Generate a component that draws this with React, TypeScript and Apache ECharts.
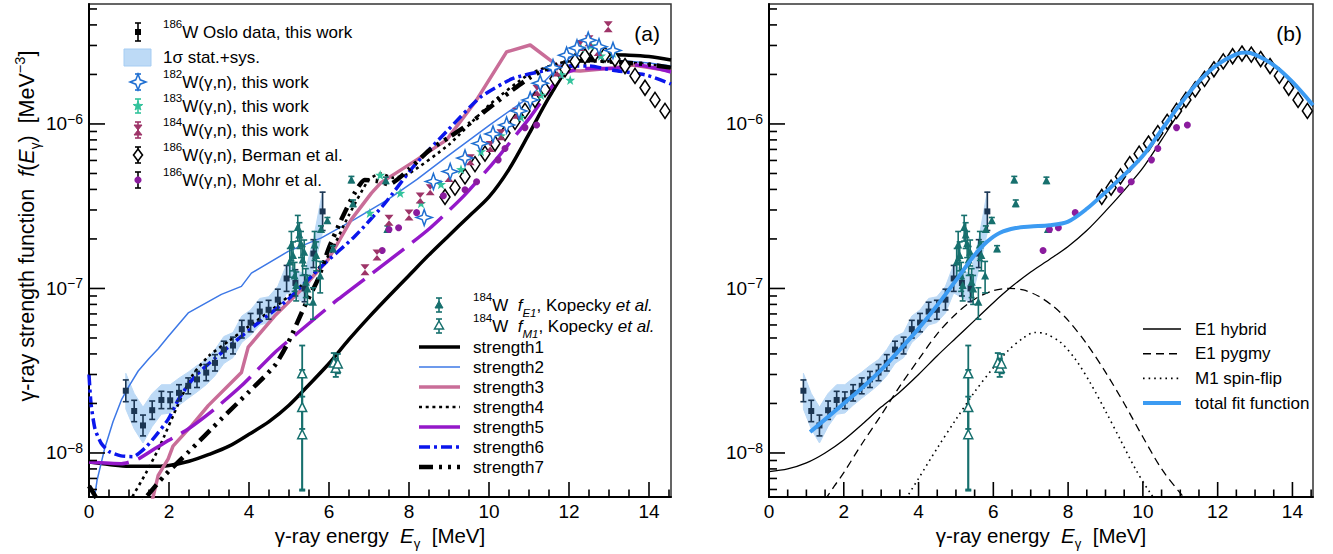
import React, { useEffect, useRef } from 'react';
import * as echarts from 'echarts';

const FONT = '"Liberation Sans", Arial, Helvetica, sans-serif';
const X_MIN = 0;
const X_MAX = 14.55;
const Y_MIN = 5.4e-9;
const Y_MAX = 5.36e-6;

// ---- tick values ----
const xTickValues = [0, 0.5, 1, 1.5, 2, 2.5, 3, 3.5, 4, 4.5, 5, 5.5, 6, 6.5, 7, 7.5, 8, 8.5, 9, 9.5, 10, 10.5, 11, 11.5, 12, 12.5, 13, 13.5, 14, 14.5];
const yTickValues = [6e-9, 7e-9, 8e-9, 9e-9, 1e-8, 2e-8, 3e-8, 4e-8, 5e-8, 6e-8, 7e-8, 8e-8, 9e-8, 1e-7, 2e-7, 3e-7, 4e-7, 5e-7, 6e-7, 7e-7, 8e-7, 9e-7, 1e-6, 2e-6, 3e-6, 4e-6, 5e-6];
const xMajorTicks = [0, 2, 4, 6, 8, 10, 12, 14];
const yMajorTicks = [1e-8, 1e-7, 1e-6];

// ---- Oslo data (186W) ----
const osloE = [0.92, 1.13, 1.35, 1.58, 1.81, 2.03, 2.25, 2.48, 2.70, 2.93, 3.15, 3.37, 3.60, 3.82, 4.04, 4.27, 4.49, 4.72, 4.94, 5.16, 5.39, 5.61, 5.84];
const osloF = [2.39e-8, 1.80e-8, 1.47e-8, 1.82e-8, 2.10e-8, 2.09e-8, 2.32e-8, 2.56e-8, 2.80e-8, 3.08e-8, 3.53e-8, 4.25e-8, 4.50e-8, 5.66e-8, 6.20e-8, 7.24e-8, 7.42e-8, 8.55e-8, 1.15e-7, 1.08e-7, 1.00e-7, 1.63e-7, 2.94e-7];
const osloLo = [2.05e-8, 1.55e-8, 1.27e-8, 1.60e-8, 1.86e-8, 1.86e-8, 2.07e-8, 2.29e-8, 2.50e-8, 2.75e-8, 3.15e-8, 3.78e-8, 4.00e-8, 5.00e-8, 5.45e-8, 6.35e-8, 6.50e-8, 7.40e-8, 9.60e-8, 9.00e-8, 8.30e-8, 1.34e-7, 2.25e-7];
const osloHi = [2.78e-8, 2.09e-8, 1.70e-8, 2.07e-8, 2.37e-8, 2.35e-8, 2.60e-8, 2.86e-8, 3.13e-8, 3.45e-8, 3.96e-8, 4.78e-8, 5.06e-8, 6.40e-8, 7.05e-8, 8.25e-8, 8.47e-8, 9.90e-8, 1.38e-7, 1.30e-7, 1.21e-7, 1.98e-7, 3.85e-7];
const bandLo = [1.85e-8, 1.40e-8, 1.15e-8, 1.45e-8, 1.72e-8, 1.75e-8, 1.95e-8, 2.15e-8, 2.35e-8, 2.60e-8, 2.95e-8, 3.50e-8, 3.80e-8, 4.70e-8, 5.20e-8, 6.00e-8, 6.20e-8, 7.10e-8, 9.40e-8, 8.80e-8, 8.20e-8, 1.30e-7, 2.20e-7];
const bandHi = [3.05e-8, 2.30e-8, 1.90e-8, 2.30e-8, 2.60e-8, 2.60e-8, 2.85e-8, 3.10e-8, 3.40e-8, 3.70e-8, 4.25e-8, 5.10e-8, 5.40e-8, 6.80e-8, 7.40e-8, 8.70e-8, 8.90e-8, 1.03e-7, 1.40e-7, 1.30e-7, 1.22e-7, 2.00e-7, 3.90e-7];

// ---- 184W Kopecky f_E1 (filled triangles) ----
const kopE1E = [5.02, 5.06, 5.10, 5.14, 5.18, 5.22, 5.26, 5.30, 5.34, 5.38, 5.42, 5.46, 5.60, 5.64, 5.68, 5.78, 5.80, 5.96, 6.10, 6.56, 6.60, 7.42, 7.46];
const kopE1F = [1.46e-7, 1.85e-7, 1.60e-7, 1.20e-7, 1.05e-7, 2.36e-7, 2.13e-7, 1.88e-7, 1.50e-7, 1.67e-7, 1.10e-7, 1.00e-7, 8.30e-8, 1.85e-7, 1.60e-7, 1.20e-7, 2.30e-7, 2.60e-7, 1.75e-7, 4.60e-7, 3.30e-7, 4.55e-7, 2.30e-7];
const kopE1Lo = [1.17e-7, 1.48e-7, 1.28e-7, 9.6e-8, 8.4e-8, 1.94e-7, 1.75e-7, 1.54e-7, 1.20e-7, 1.37e-7, 8.8e-8, 8.0e-8, 6.5e-8, 1.48e-7, 1.28e-7, 9.4e-8, 2.2e-7, 2.5e-7, 1.68e-7, 4.4e-7, 3.15e-7, 4.35e-7, 2.2e-7];
const kopE1Hi = [1.75e-7, 2.22e-7, 1.92e-7, 1.44e-7, 1.26e-7, 2.78e-7, 2.51e-7, 2.22e-7, 1.80e-7, 1.97e-7, 1.32e-7, 1.20e-7, 1.01e-7, 2.22e-7, 1.92e-7, 1.46e-7, 2.4e-7, 2.7e-7, 1.82e-7, 4.8e-7, 3.45e-7, 4.75e-7, 2.4e-7];
// ---- 184W Kopecky f_M1 (open triangles) ----
const kopM1E = [5.33, 5.33, 5.33, 6.12, 6.17, 6.22];
const kopM1F = [3.05e-8, 1.90e-8, 1.30e-8, 3.55e-8, 3.30e-8, 3.50e-8];
const kopM1Lo = [1.40e-8, 6.0e-9, 5.9e-9, 3.10e-8, 2.90e-8, 3.05e-8];
const kopM1Hi = [4.50e-8, 3.20e-8, 2.20e-8, 4.05e-8, 3.75e-8, 4.00e-8];

// ---- (gamma,n) this work ----
const w182E = [8.38, 8.61, 9.03, 9.40, 9.78, 10.10, 10.44, 10.75, 11.03, 11.28, 11.60, 11.94, 12.20, 12.48, 12.75, 13.10];
const w182F = [2.70e-7, 4.47e-7, 5.14e-7, 6.20e-7, 7.60e-7, 8.70e-7, 9.86e-7, 1.20e-6, 1.40e-6, 1.77e-6, 2.20e-6, 2.62e-6, 2.90e-6, 3.23e-6, 2.95e-6, 2.80e-6];
const w183E = [7.02, 7.28, 7.78, 8.30, 8.80, 9.30, 9.80, 10.30, 10.80, 11.30, 11.80, 12.03, 12.30, 12.55, 12.80, 13.10];
const w183F = [2.88e-7, 4.90e-7, 3.80e-7, 3.30e-7, 4.30e-7, 5.30e-7, 6.80e-7, 8.50e-7, 1.10e-6, 1.50e-6, 2.00e-6, 1.85e-6, 2.90e-6, 3.00e-6, 2.60e-6, 2.70e-6];
const w184E = [6.90, 7.20, 7.50, 8.00, 8.28, 8.53, 9.00, 9.53, 10.03, 10.30, 10.69, 11.20, 11.70, 12.28, 12.50, 12.73, 12.98];
const w184F = [1.30e-7, 1.60e-7, 2.60e-7, 2.80e-7, 3.55e-7, 3.98e-7, 4.80e-7, 6.05e-7, 7.30e-7, 8.60e-7, 1.16e-6, 1.60e-6, 2.10e-6, 3.00e-6, 3.20e-6, 2.80e-6, 3.90e-6];

// ---- Berman et al. and Mohr et al. ----
const bermanE = [8.9, 9.15, 9.4, 9.65, 9.9, 10.15, 10.4, 10.65, 10.9, 11.15, 11.4, 11.65, 11.9, 12.15, 12.4, 12.65, 12.9, 13.15, 13.4, 13.65, 13.9, 14.15, 14.4];
const bermanF = [3.6e-7, 4.1e-7, 4.8e-7, 5.7e-7, 6.6e-7, 7.6e-7, 8.8e-7, 1.03e-6, 1.2e-6, 1.4e-6, 1.62e-6, 1.88e-6, 2.15e-6, 2.4e-6, 2.58e-6, 2.68e-6, 2.64e-6, 2.48e-6, 2.25e-6, 1.96e-6, 1.66e-6, 1.4e-6, 1.2e-6];
const mohrE = [7.33, 7.50, 7.74, 8.19, 8.86, 9.40, 9.69, 10.23, 10.40, 10.90, 11.19];
const mohrF = [1.70e-7, 2.28e-7, 2.34e-7, 2.89e-7, 3.66e-7, 3.98e-7, 4.45e-7, 6.05e-7, 7.10e-7, 9.50e-7, 9.86e-7];

// ---- model strength functions (panel a) ----
const s1E = [0, 0.5, 1, 1.5, 2, 2.5, 3, 3.5, 4, 4.5, 5, 5.5, 6, 6.5, 7, 7.5, 8, 8.5, 9, 9.5, 10, 10.5, 11, 11.5, 12, 12.5, 13, 13.5, 14, 14.55];
const s1F = [8.8e-9, 8.5e-9, 8.3e-9, 8.3e-9, 8.4e-9, 8.9e-9, 9.8e-9, 1.1e-8, 1.3e-8, 1.55e-8, 1.95e-8, 2.6e-8, 3.5e-8, 4.9e-8, 6.7e-8, 9.0e-8, 1.2e-7, 1.6e-7, 2.1e-7, 2.75e-7, 3.6e-7, 5.3e-7, 8.7e-7, 1.45e-6, 2.2e-6, 2.55e-6, 2.63e-6, 2.62e-6, 2.57e-6, 2.45e-6];
const s2E = [0.12, 0.2, 0.39, 0.6, 0.81, 1.0, 1.23, 1.5, 1.73, 1.98, 2.48, 3.31, 3.81, 4.06, 4.98, 5.81, 6.64, 7.47, 8.2, 8.94, 10.03, 11.03, 11.78, 12.1, 12.5, 13.1, 14.0, 14.55];
const s2F = [5.0e-9, 6.8e-9, 1.06e-8, 1.55e-8, 2.1e-8, 2.55e-8, 3.15e-8, 3.75e-8, 4.3e-8, 5.1e-8, 7.1e-8, 9.2e-8, 1.03e-7, 1.24e-7, 1.68e-7, 2.03e-7, 2.63e-7, 3.47e-7, 4.6e-7, 6.3e-7, 9.9e-7, 1.47e-6, 2.28e-6, 2.6e-6, 2.6e-6, 2.45e-6, 2.35e-6, 2.25e-6];
const s3E = [1.55, 1.73, 1.98, 2.1, 2.56, 2.98, 3.81, 3.98, 4.64, 5.31, 5.98, 6.56, 7.06, 7.3, 8.19, 8.94, 9.69, 10.44, 11.03, 11.53, 11.86, 12.28, 13.1, 13.6, 14.55];
const s3F = [4.8e-9, 7.3e-9, 9.2e-9, 1.1e-8, 1.46e-8, 1.94e-8, 3.08e-8, 4.4e-8, 6.8e-8, 9.86e-8, 1.5e-7, 2.63e-7, 3.8e-7, 4.4e-7, 6.05e-7, 8.0e-7, 1.4e-6, 2.74e-6, 3.02e-6, 2.44e-6, 2.12e-6, 2.1e-6, 2.19e-6, 2.28e-6, 2.1e-6];
const s4E = [1.0, 1.43, 1.77, 2.23, 2.6, 3.0, 3.5, 4.0, 4.5, 5.0, 5.5, 6.0, 6.5, 7.0, 7.3, 7.6, 8.0, 9.0, 10.0, 11.0, 12.0, 13.0, 14.0, 14.55];
const s4F = [5.0e-9, 7.6e-9, 1.1e-8, 1.98e-8, 3.0e-8, 3.9e-8, 4.8e-8, 5.9e-8, 7.2e-8, 9.0e-8, 1.15e-7, 1.6e-7, 2.8e-7, 4.6e-7, 5.0e-7, 4.7e-7, 5.0e-7, 7.5e-7, 1.3e-6, 2.0e-6, 2.4e-6, 2.4e-6, 2.3e-6, 2.2e-6];
const s5E = [0, 0.81, 1.23, 1.64, 1.98, 2.48, 3.14, 3.81, 4.64, 5.23, 6.23, 7.47, 8.5, 9.36, 10.1, 11.03, 11.78, 12.28, 13.1, 13.7, 14.55];
const s5F = [8.8e-9, 8.6e-9, 9.2e-9, 1.06e-8, 1.19e-8, 1.4e-8, 1.85e-8, 2.56e-8, 4.07e-8, 5.4e-8, 8.6e-8, 1.46e-7, 2.3e-7, 3.63e-7, 5.78e-7, 1.1e-6, 1.94e-6, 2.17e-6, 2.17e-6, 2.28e-6, 2.07e-6];
const s6E = [0.0, 0.05, 0.15, 0.3, 0.5, 0.8, 1.1, 1.4, 1.64, 1.98, 2.23, 2.48, 2.7, 3.0, 3.48, 4.31, 4.98, 5.81, 6.64, 7.4, 8.11, 8.94, 9.78, 10.6, 11.44, 12.0, 12.5, 13.1, 13.94, 14.55];
const s6F = [3.0e-8, 2.0e-8, 1.4e-8, 1.15e-8, 1.02e-8, 9.6e-9, 9.5e-9, 1.07e-8, 1.25e-8, 1.6e-8, 2.1e-8, 2.6e-8, 3.0e-8, 3.5e-8, 4.4e-8, 6.4e-8, 8.6e-8, 1.36e-7, 2.07e-7, 3.3e-7, 5.5e-7, 9.0e-7, 1.45e-6, 1.89e-6, 2.12e-6, 2.25e-6, 2.25e-6, 2.12e-6, 1.98e-6, 1.75e-6];
const s7E = [0, 0.15, 0.3, 1.2, 1.43, 1.89, 2.48, 3.31, 3.98, 4.64, 4.98, 5.39, 5.72, 5.98, 6.31, 6.64, 6.89, 7.2, 7.5, 8.0, 8.5, 9.0, 9.5, 10.0, 10.5, 11.0, 11.5, 12.0, 12.5, 13.0, 13.5, 14.0, 14.55];
const s7F = [6.3e-9, 5.5e-9, 4.8e-9, 4.6e-9, 5.4e-9, 7.3e-9, 1.01e-8, 1.61e-8, 2.33e-8, 3.39e-8, 4.69e-8, 7.8e-8, 1.13e-7, 1.72e-7, 2.63e-7, 3.8e-7, 4.57e-7, 4.5e-7, 4.3e-7, 5.3e-7, 6.9e-7, 8.3e-7, 1.0e-6, 1.25e-6, 1.55e-6, 1.9e-6, 2.2e-6, 2.4e-6, 2.45e-6, 2.4e-6, 2.35e-6, 2.3e-6, 2.2e-6];

// ---- fit components (panel b) ----
const hybE = [0, 0.5, 1, 1.5, 2, 2.5, 3, 3.5, 4, 4.5, 5, 5.5, 6, 6.5, 7, 7.5, 8, 8.5, 9, 9.5, 10, 10.5, 11, 11.5, 12, 12.5, 12.75, 13, 13.5, 14, 14.55];
const hybF = [7.7e-9, 8.0e-9, 8.7e-9, 1.0e-8, 1.2e-8, 1.5e-8, 1.9e-8, 2.35e-8, 3.0e-8, 3.9e-8, 5.0e-8, 6.4e-8, 8.2e-8, 1.03e-7, 1.26e-7, 1.5e-7, 1.8e-7, 2.25e-7, 2.95e-7, 3.95e-7, 5.4e-7, 8.0e-7, 1.2e-6, 1.75e-6, 2.25e-6, 2.6e-6, 2.66e-6, 2.6e-6, 2.25e-6, 1.78e-6, 1.28e-6];
const pygE = [1.5, 1.75, 2.0, 2.5, 3.0, 3.5, 4.0, 4.5, 5.0, 5.5, 6.0, 6.4, 6.8, 7.2, 7.6, 8.0, 8.5, 9.0, 9.5, 10.0, 10.5, 11.0, 11.4];
const pygF = [5.2e-9, 6.3e-9, 7.6e-9, 1.15e-8, 1.7e-8, 2.55e-8, 3.7e-8, 5.3e-8, 7.0e-8, 8.6e-8, 9.7e-8, 1.0e-7, 9.8e-8, 9.0e-8, 7.8e-8, 6.4e-8, 4.6e-8, 3.1e-8, 2.0e-8, 1.25e-8, 8.0e-9, 5.7e-9, 4.5e-9];
const m1E = [3.5, 4.0, 4.5, 5.0, 5.5, 6.0, 6.4, 6.8, 7.1, 7.4, 7.8, 8.2, 8.6, 9.0, 9.4, 9.8, 10.2, 10.6];
const m1F = [4.6e-9, 7.0e-9, 1.07e-8, 1.6e-8, 2.35e-8, 3.3e-8, 4.2e-8, 5.0e-8, 5.4e-8, 5.3e-8, 4.7e-8, 3.7e-8, 2.65e-8, 1.8e-8, 1.2e-8, 8.0e-9, 5.7e-9, 4.3e-9];
const fitE = [1.10, 1.5, 2.0, 2.5, 3.0, 3.5, 4.0, 4.5, 5.0, 5.5, 5.83, 6.18, 6.6, 7.0, 7.5, 8.0, 8.5, 9.0, 9.5, 10.0, 10.5, 11.0, 11.5, 12.0, 12.5, 12.75, 13.0, 13.5, 14.0, 14.55];
const fitF = [1.34e-8, 1.6e-8, 2.0e-8, 2.5e-8, 3.2e-8, 4.25e-8, 5.7e-8, 7.9e-8, 1.12e-7, 1.6e-7, 1.92e-7, 2.18e-7, 2.33e-7, 2.38e-7, 2.42e-7, 2.55e-7, 3.05e-7, 3.85e-7, 4.9e-7, 6.4e-7, 9.2e-7, 1.32e-6, 1.82e-6, 2.3e-6, 2.66e-6, 2.72e-6, 2.64e-6, 2.28e-6, 1.8e-6, 1.3e-6];

// ---- colours ----
const C_OSLO = '#1b3552';
const C_BAND = '#bddaf6';
const C_182 = '#1f6fd1';
const C_183 = '#33c39c';
const C_184 = '#9e3468';
const C_MOHR = '#8b1c9e';
const C_KOP = '#17706e';
const C_S2 = '#3d78e6';
const C_S3 = '#c96d98';
const C_S5 = '#9418c9';
const C_S6 = '#0b16ec';
const C_FIT = '#3c9bf2';

const STAR4 = 'path://M0,-10L2.6,-2.6L10,0L2.6,2.6L0,10L-2.6,2.6L-10,0L-2.6,-2.6Z';
const STAR5 = 'path://M0,-10L2.35,-3.24L9.51,-3.09L3.8,1.24L5.88,8.09L0,4L-5.88,8.09L-3.8,1.24L-9.51,-3.09L-2.35,-3.24Z';
const HOURGLASS = 'path://M-5,-6L5,-6L0,0L5,6L-5,6L0,0Z';

const pairs = (E: number[], F: number[]) => E.map((e, i) => [e, F[i]]);

function lineS(idx: number, E: number[], F: number[], color: string, width: number, type: any, smooth: number) {
  return {
    type: 'line', xAxisIndex: idx, yAxisIndex: idx, data: pairs(E, F), symbol: 'none', showSymbol: false,
    smooth: smooth > 0 ? smooth : false, clip: true, silent: true, z: 3,
    lineStyle: { color, width, type, cap: 'butt', join: 'round' },
  };
}

function scatterS(idx: number, E: number[], F: number[], symbol: string, size: any, fill: string, stroke: string, bw: number, z = 5) {
  return {
    type: 'scatter', xAxisIndex: idx, yAxisIndex: idx, data: pairs(E, F), symbol, symbolSize: size, silent: true, z,
    itemStyle: { color: fill, borderColor: stroke, borderWidth: bw, opacity: 1 },
  };
}

function errS(idx: number, E: number[], LO: number[], HI: number[], color: string, cap: number, lw: number) {
  return {
    type: 'custom', xAxisIndex: idx, yAxisIndex: idx, clip: true, silent: true, z: 4,
    data: E.map((e, i) => [e, LO[i], HI[i]]),
    encode: { x: 0, y: 1 },
    renderItem: (params: any, api: any) => {
      const x = api.value(0);
      const a = api.coord([x, api.value(1)]);
      const b = api.coord([x, api.value(2)]);
      const st = { stroke: color, lineWidth: lw };
      return {
        type: 'group', children: [
          { type: 'line', shape: { x1: a[0], y1: a[1], x2: b[0], y2: b[1] }, style: st },
          { type: 'line', shape: { x1: a[0] - cap, y1: a[1], x2: a[0] + cap, y2: a[1] }, style: st },
          { type: 'line', shape: { x1: b[0] - cap, y1: b[1], x2: b[0] + cap, y2: b[1] }, style: st },
        ],
      };
    },
  };
}

function bandS(idx: number) {
  return {
    type: 'custom', xAxisIndex: idx, yAxisIndex: idx, clip: true, silent: true, z: 1,
    data: [[osloE[0], osloF[0]]], encode: { x: 0, y: 1 },
    renderItem: (params: any, api: any) => {
      const pts: number[][] = [];
      for (let i = 0; i < osloE.length; i++) pts.push(api.coord([osloE[i], bandLo[i]]));
      for (let i = osloE.length - 1; i >= 0; i--) pts.push(api.coord([osloE[i], bandHi[i]]));
      return { type: 'polygon', shape: { points: pts }, style: { fill: C_BAND, stroke: C_BAND, lineWidth: 1 } };
    },
  };
}

function ticksS(idx: number) {
  const data: any[] = [];
  xTickValues.forEach(v => data.push([v, Y_MIN, 0]));
  yTickValues.forEach(v => data.push([X_MIN, v, 1]));
  return {
    type: 'custom', xAxisIndex: idx, yAxisIndex: idx, clip: false, silent: true, z: 10,
    data, encode: { x: 0, y: 1 },
    renderItem: (params: any, api: any) => {
      const xv = api.value(0), yv = api.value(1), kind = api.value(2);
      const p = api.coord([xv, yv]);
      const st = { stroke: '#000', lineWidth: 1.6 };
      if (kind === 0) {
        const len = xMajorTicks.indexOf(xv) >= 0 ? 15 : 7.5;
        return { type: 'line', shape: { x1: p[0], y1: p[1], x2: p[0], y2: p[1] - len }, style: st };
      }
      const major = yMajorTicks.some(m => Math.abs(m - yv) / m < 1e-6);
      const len = major ? 16 : 8;
      return { type: 'line', shape: { x1: p[0], y1: p[1], x2: p[0] + len, y2: p[1] }, style: st };
    },
  };
}

const RICH_L = {
  n: { fontSize: 17, fontFamily: FONT, lineHeight: 28 },
  s: { fontSize: 11.5, fontFamily: FONT, lineHeight: 12, verticalAlign: 'top' },
  i: { fontSize: 17, fontFamily: FONT, fontStyle: 'italic', lineHeight: 28 },
  b: { fontSize: 11.5, fontFamily: FONT, fontStyle: 'italic', lineHeight: 16, verticalAlign: 'bottom' },
};

function txt(x: number, y: number, text: string, extra: any = {}) {
  return {
    type: 'text', x, y, z: 100, silent: true,
    style: { text, fontFamily: FONT, fontSize: 17, fill: '#000', align: 'left', verticalAlign: 'middle', textAlign: 'left', textVerticalAlign: 'middle', rich: RICH_L, ...extra },
  };
}
function seg(x1: number, y1: number, x2: number, y2: number, color: string, w: number, dash?: any) {
  return { type: 'line', z: 100, silent: true, shape: { x1, y1, x2, y2 }, style: { stroke: color, lineWidth: w, lineDash: dash || null } };
}
function ebar(cx: number, cy: number, h: number, color: string) {
  return [seg(cx, cy - h, cx, cy + h, color, 1.6), seg(cx - 3, cy - h, cx + 3, cy - h, color, 1.6), seg(cx - 3, cy + h, cx + 3, cy + h, color, 1.6)];
}
function poly(pts: number[][], fill: string, stroke: string, lw = 1.4) {
  return { type: 'polygon', z: 101, silent: true, shape: { points: pts }, style: { fill, stroke, lineWidth: lw } };
}

export default function App() {
  const ref = useRef<HTMLDivElement>(null);
  useEffect(() => {
    if (!ref.current) return;
    const chart = echarts.init(ref.current, null, { renderer: 'svg' });

    const yLabel = {
      margin: 6, fontFamily: FONT, fontSize: 19, color: '#000',
      formatter: (v: number) => {
        const l = v > 0 ? Math.log10(v) : v;
        const r = Math.round(l);
        if (Math.abs(l - r) > 1e-6) return '';
        return `{b|10}{e|${r < 0 ? '\u2212' : ''}${Math.abs(r)}}`;
      },
      rich: {
        b: { fontSize: 19, fontFamily: FONT, lineHeight: 24 },
        e: { fontSize: 14, fontFamily: FONT, lineHeight: 12, verticalAlign: 'top' },
      },
    };
    const xLabel = {
      margin: 5, fontFamily: FONT, fontSize: 19, color: '#000',
      formatter: (v: number) => {
        const r = Math.round(v);
        return Math.abs(v - r) < 1e-6 && r % 2 === 0 ? String(r) : '';
      },
    };
    const mkX = (gi: number) => ({
      type: 'value', gridIndex: gi, min: X_MIN, max: X_MAX, interval: 2,
      axisLine: { show: true, onZero: false, lineStyle: { color: '#000', width: 2 } },
      axisTick: { show: false }, splitLine: { show: false }, axisLabel: xLabel,
    });
    const mkY = (gi: number) => ({
      type: 'log', logBase: 10, gridIndex: gi, min: Y_MIN, max: Y_MAX,
      axisLine: { show: true, lineStyle: { color: '#000', width: 2 } },
      axisTick: { show: false }, splitLine: { show: false }, minorSplitLine: { show: false }, axisLabel: yLabel,
    });

    const series: any[] = [];
    // ---------- panel (a) ----------
    series.push(bandS(0));
    series.push(lineS(0, s1E, s1F, '#000', 3.5, 'solid', 0.3));
    series.push(lineS(0, s2E, s2F, C_S2, 1.5, 'solid', 0));
    series.push(lineS(0, s3E, s3F, C_S3, 3.5, 'solid', 0));
    series.push(lineS(0, s4E, s4F, '#000', 2.6, [3, 3.7], 0.2));
    series.push(lineS(0, s5E, s5F, C_S5, 3.5, [40, 10], 0.2));
    series.push(lineS(0, s6E, s6F, C_S6, 3.5, [11, 4, 3, 4], 0.2));
    series.push(lineS(0, s7E, s7F, '#000', 4.5, [14, 6, 3, 6, 3, 6], 0.2));
    series.push(errS(0, osloE, osloLo, osloHi, C_OSLO, 3, 1.6));
    series.push(scatterS(0, osloE, osloF, 'rect', 6, C_OSLO, C_OSLO, 0));
    series.push(errS(0, kopE1E, kopE1Lo, kopE1Hi, C_KOP, 3, 1.6));
    series.push(scatterS(0, kopE1E, kopE1F, 'triangle', 8, C_KOP, C_KOP, 0));
    series.push(errS(0, kopM1E, kopM1Lo, kopM1Hi, C_KOP, 3, 1.8));
    series.push(scatterS(0, kopM1E, kopM1F, 'triangle', 9, '#ffffff', C_KOP, 1.5));
    series.push(scatterS(0, bermanE, bermanF, 'diamond', [10, 15], '#ffffff', '#000', 1.6));
    series.push(scatterS(0, mohrE, mohrF, 'circle', 7, C_MOHR, C_MOHR, 0));
    series.push(scatterS(0, w183E, w183F, STAR5, 10, C_183, C_183, 0));
    series.push(scatterS(0, w184E, w184F, HOURGLASS, [9, 11], C_184, C_184, 0));
    series.push(scatterS(0, w182E, w182F, STAR4, 16, '#ffffff', C_182, 1.5));
    series.push(ticksS(0));

    // ---------- panel (b) ----------
    series.push(bandS(1));
    series.push(lineS(1, hybE, hybF, '#000', 1.3, 'solid', 0.3));
    series.push(lineS(1, pygE, pygF, '#000', 1.3, [8, 5], 0.3));
    series.push(lineS(1, m1E, m1F, '#000', 1.6, [1.6, 4], 0.3));
    series.push(errS(1, osloE, osloLo, osloHi, C_OSLO, 3, 1.6));
    series.push(scatterS(1, osloE, osloF, 'rect', 6, C_OSLO, C_OSLO, 0));
    series.push(errS(1, kopE1E, kopE1Lo, kopE1Hi, C_KOP, 3, 1.6));
    series.push(scatterS(1, kopE1E, kopE1F, 'triangle', 8, C_KOP, C_KOP, 0));
    series.push(errS(1, kopM1E, kopM1Lo, kopM1Hi, C_KOP, 3, 1.8));
    series.push(scatterS(1, kopM1E, kopM1F, 'triangle', 9, '#ffffff', C_KOP, 1.5));
    series.push(scatterS(1, mohrE, mohrF, 'circle', 7, C_MOHR, C_MOHR, 0));
    series.push(scatterS(1, bermanE, bermanF, 'diamond', [10, 15], '#ffffff', '#000', 1.6));
    const fit: any = lineS(1, fitE, fitF, C_FIT, 4, 'solid', 0.3);
    fit.z = 6;
    series.push(fit);
    series.push(ticksS(1));

    // ---------- legends & titles ----------
    const g: any[] = [];
    const LX = 138, TX = 163;
    g.push(...ebar(LX, 32, 9, '#000'));
    g.push({ type: 'rect', z: 101, silent: true, shape: { x: LX - 3, y: 29, width: 6, height: 6 }, style: { fill: '#000' } });
    g.push(txt(TX, 32, '{s|186}{n|W Oslo data, this work}'));
    g.push({ type: 'rect', z: 101, silent: true, shape: { x: 124, y: 49, width: 27, height: 17 }, style: { fill: C_BAND, stroke: '#a6cdf3', lineWidth: 1 } });
    g.push(txt(TX, 57, '{n|1\u03c3 stat.+sys.}'));
    g.push(...ebar(LX, 82, 8, C_182));
    g.push(poly([[LX, 74], [LX + 2.2, 79.8], [LX + 8, 82], [LX + 2.2, 84.2], [LX, 90], [LX - 2.2, 84.2], [LX - 8, 82], [LX - 2.2, 79.8]], '#ffffff', C_182, 1.5));
    g.push(txt(TX, 82, '{s|182}{n|W(\u03b3,n), this work}'));
    g.push(...ebar(LX, 106, 7, C_183));
    g.push(poly([[LX, 101], [LX + 1.2, 104.4], [LX + 4.8, 104.5], [LX + 1.9, 106.6], [LX + 2.9, 110], [LX, 108], [LX - 2.9, 110], [LX - 1.9, 106.6], [LX - 4.8, 104.5], [LX - 1.2, 104.4]], C_183, C_183, 1));
    g.push(txt(TX, 106, '{s|183}{n|W(\u03b3,n), this work}'));
    g.push(...ebar(LX, 130, 8, C_184));
    g.push(poly([[LX - 4, 125], [LX + 4, 125], [LX, 130], [LX + 4, 135], [LX - 4, 135], [LX, 130]], C_184, C_184, 1));
    g.push(txt(TX, 130, '{s|184}{n|W(\u03b3,n), this work}'));
    g.push(...ebar(LX, 155, 8, '#000'));
    g.push(poly([[LX, 149], [LX + 4.5, 155], [LX, 161], [LX - 4.5, 155]], '#ffffff', '#000', 1.6));
    g.push(txt(TX, 155, '{s|186}{n|W(\u03b3,n), Berman et al.}'));
    g.push(...ebar(LX, 180, 8, '#000'));
    g.push({ type: 'circle', z: 101, silent: true, shape: { cx: LX, cy: 180, r: 3.6 }, style: { fill: C_MOHR } });
    g.push(txt(TX, 180, '{s|186}{n|W(\u03b3,n), Mohr et al.}'));

    const KX = 439, KT = 473;
    g.push(...ebar(KX, 305, 7, C_KOP));
    g.push(poly([[KX, 301], [KX + 4, 308], [KX - 4, 308]], C_KOP, C_KOP, 1));
    g.push(txt(KT, 305, '{s|184}{n|W  }{i|f}{b|E1}{n|, Kopecky }{i|et al.}'));
    g.push(...ebar(KX, 326, 7, C_KOP));
    g.push(poly([[KX, 321], [KX + 4.5, 329], [KX - 4.5, 329]], '#ffffff', C_KOP, 1.5));
    g.push(txt(KT, 326, '{s|184}{n|W  }{i|f}{b|M1}{n|, Kopecky }{i|et al.}'));
    const legLines: any[] = [
      ['strength1', '#000', 3.5, null],
      ['strength2', C_S2, 1.5, null],
      ['strength3', C_S3, 3.5, null],
      ['strength4', '#000', 2.6, [3, 3.7]],
      ['strength5', C_S5, 3.5, null],
      ['strength6', C_S6, 3.5, [11, 4, 3, 4]],
      ['strength7', '#000', 4.5, [14, 6, 3, 6, 3, 6]],
    ];
    legLines.forEach((l, k) => {
      const y = 347 + k * 20;
      g.push(seg(419, y, 460, y, l[1], l[2], l[3]));
      g.push(txt(KT, y, `{n|${l[0]}}`));
    });

    const bl: any[] = [
      ['E1 hybrid', '#000', 1.4, null],
      ['E1 pygmy', '#000', 1.4, [8, 5]],
      ['M1 spin-flip', '#000', 1.6, [1.6, 4]],
      ['total fit function', C_FIT, 4, null],
    ];
    bl.forEach((l, k) => {
      const y = 329 + k * 24.7;
      g.push(seg(1143, y, 1181, y, l[1], l[2], l[3]));
      g.push(txt(1195, y, `{n|${l[0]}}`));
    });

    g.push(txt(660, 33, '(a)', { fontSize: 21, align: 'right', textAlign: 'right', rich: {} }));
    g.push(txt(1302, 33, '(b)', { fontSize: 21, align: 'right', textAlign: 'right', rich: {} }));

    const mkRich = (fs: number) => ({
      n: { fontSize: fs, fontFamily: FONT, lineHeight: 30 },
      i: { fontSize: fs, fontFamily: FONT, fontStyle: 'italic', lineHeight: 30 },
      b: { fontSize: fs * 0.64, fontFamily: FONT, lineHeight: 18, verticalAlign: 'bottom' },
      s: { fontSize: fs * 0.68, fontFamily: FONT, lineHeight: 13, verticalAlign: 'top' },
    });
    const tStyle = (text: string, fs: number) => ({ text, rich: mkRich(fs), fontSize: fs, fontFamily: FONT, align: 'center', verticalAlign: 'middle', textAlign: 'center', textVerticalAlign: 'middle', fill: '#000' });
    const xt = '{n|\u03b3-ray energy  }{i|E}{b|\u03b3}{n|  [MeV]}';
    g.push({ type: 'text', x: 380, y: 535, z: 100, silent: true, style: tStyle(xt, 20.5) });
    g.push({ type: 'text', x: 1041, y: 535, z: 100, silent: true, style: tStyle(xt, 20.5) });
    const yt = '{n|\u03b3-ray strength function  }{i|f}{n|(}{i|E}{b|\u03b3}{n|)  [MeV}{s|\u22123}{n|]}';
    g.push({ type: 'text', x: 27, y: 226, rotation: Math.PI / 2, z: 100, silent: true, style: tStyle(yt, 21.5) });

    chart.setOption({
      animation: false,
      backgroundColor: '#ffffff',
      grid: [
        { left: 89, top: 4, width: 582, height: 493, show: true, borderColor: '#333', borderWidth: 1.5, backgroundColor: 'transparent' },
        { left: 769, top: 4, width: 544, height: 493, show: true, borderColor: '#333', borderWidth: 1.5, backgroundColor: 'transparent' },
      ],
      xAxis: [mkX(0), mkX(1)],
      yAxis: [mkY(0), mkY(1)],
      series,
      graphic: g,
    });
    return () => chart.dispose();
  }, []);
  return <div ref={ref} style={{ position: 'fixed', left: 0, top: 0, width: 1333, height: 554, background: '#fff' }} />;
}
